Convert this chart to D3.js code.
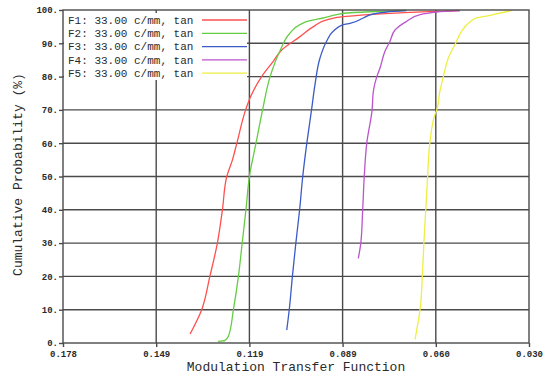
<!DOCTYPE html>
<html>
<head>
<meta charset="utf-8">
<script src="https://cdn.jsdelivr.net/npm/d3@7"></script>
<style>
  body { margin: 0; background: #fff; }
  svg text { font-family: "Liberation Mono", "DejaVu Sans Mono", monospace; fill: #2a2a2a; }
</style>
</head>
<body>
<div id="chart"></div>
<script>
// --------------------------------------
//  Data
// --------------------------------------

const legendLabels = ["F1: 33.00 c/mm, tan", "F2: 33.00 c/mm, tan", "F3: 33.00 c/mm, tan", "F4: 33.00 c/mm, tan", "F5: 33.00 c/mm, tan"];
const seriesColors = ["#ff5050", "#66cc44", "#3a5bc8", "#bb55cc", "#eeee44"];

const xTicks = [0.1785, 0.1488, 0.1191, 0.0894, 0.0597, 0.0300];
const yTicks = [0, 10, 20, 30, 40, 50, 60, 70, 80, 90, 100];

const f1Mtf  = [0.1380, 0.1343, 0.1317, 0.1293, 0.1277, 0.1263, 0.1245, 0.1231, 0.1203, 0.1187, 0.1152, 0.1115, 0.1088, 0.1030, 0.0987, 0.0945, 0.0892, 0.0743, 0.0620, 0.0520];
const f1Prob = [2.7, 10, 20, 30, 40, 50, 55, 60, 70, 74, 80, 84.6, 88, 92, 95, 97, 98, 99, 99.5, 99.8];

const f2Mtf  = [0.1291, 0.1270, 0.1258, 0.1242, 0.1226, 0.1214, 0.1202, 0.1191, 0.1170, 0.1149, 0.1125, 0.1094, 0.1062, 0.1030, 0.0998, 0.0956, 0.0913, 0.0881, 0.0775, 0.0695];
const f2Prob = [0.5, 0.7, 2, 10, 20, 30, 40, 50, 60, 70, 80, 87.6, 93, 95.6, 96.8, 97.6, 98.6, 99.1, 99.6, 99.9];

const f3Mtf  = [0.1072, 0.1064, 0.1054, 0.1043, 0.1031, 0.1021, 0.1008, 0.0993, 0.0982, 0.0966, 0.0945, 0.0924, 0.0892, 0.0870, 0.0828, 0.0796, 0.0754, 0.0690];
const f3Prob = [3.9, 10, 20, 30, 40, 50, 60, 70, 77.6, 85.6, 90.6, 93.6, 95.6, 96, 97.6, 98.8, 99.4, 99.8];

const f4Mtf  = [0.0844, 0.0836, 0.0830, 0.0825, 0.0817, 0.0800, 0.0796, 0.0785, 0.0775, 0.0759, 0.0743, 0.0727, 0.0690, 0.0647, 0.0616, 0.0594, 0.0520];
const f4Prob = [25.4, 30, 40, 50, 60, 70, 75.6, 80, 82.5, 87.6, 90.6, 94, 96.6, 98.6, 99.1, 99.4, 99.8];

const f5Mtf  = [0.0663, 0.0656, 0.0647, 0.0640, 0.0635, 0.0629, 0.0623, 0.0616, 0.0600, 0.0594, 0.0584, 0.0573, 0.0557, 0.0536, 0.0515, 0.0493, 0.0467, 0.0424, 0.0392, 0.0355];
const f5Prob = [1.1, 4.9, 10, 20, 30, 40, 50, 60, 68.5, 70, 75.6, 80, 85.6, 89.6, 93.6, 96, 97.6, 98.4, 99.1, 99.8];

const seriesMtf = [f1Mtf, f2Mtf, f3Mtf, f4Mtf, f5Mtf];
const seriesProb = [f1Prob, f2Prob, f3Prob, f4Prob, f5Prob];

// --------------------------------------
//  Margin and canvas
// --------------------------------------

const width = 550;
const height = 377;
const margin = {top: 10, right: 21, bottom: 34, left: 63};
const innerWidth = width - margin.left - margin.right;
const innerHeight = height - margin.top - margin.bottom;

const svg = d3.select("#chart")
  .append("svg")
    .attr("width", width)
    .attr("height", height);

const innerChart = svg
  .append("g")
    .attr("transform", `translate(${margin.left}, ${margin.top})`);

// --------------------------------------
//  Scales
// --------------------------------------

const xScale = d3.scaleLinear()
  .domain([0.1785, 0.0300])
  .range([0, innerWidth]);

const yScale = d3.scaleLinear()
  .domain([0, 100])
  .range([innerHeight, 0]);

const gridColor = "#4a4a4a";

// --------------------------------------
//  Grid
// --------------------------------------

innerChart.append("g")
  .selectAll("line")
  .data(yTicks.slice(1, -1))
  .join("line")
    .attr("x1", 0)
    .attr("x2", innerWidth)
    .attr("y1", d => yScale(d))
    .attr("y2", d => yScale(d))
    .attr("stroke", gridColor)
    .attr("stroke-width", 1.4);

innerChart.append("g")
  .selectAll("line")
  .data(xTicks.slice(1, -1))
  .join("line")
    .attr("x1", d => xScale(d))
    .attr("x2", d => xScale(d))
    .attr("y1", 0)
    .attr("y2", innerHeight)
    .attr("stroke", gridColor)
    .attr("stroke-width", 1.4);

// --------------------------------------
//  Axes
// --------------------------------------

const xAxis = d3.axisBottom(xScale)
  .tickValues(xTicks)
  .tickSize(4)
  .tickFormat(d3.format(".3f"));

const yAxis = d3.axisLeft(yScale)
  .tickValues(yTicks)
  .tickSize(4)
  .tickFormat(d => d + ".");

innerChart.append("g")
    .attr("transform", `translate(0, ${innerHeight})`)
    .call(xAxis)
    .call(g => g.select(".domain").remove())
    .call(g => g.selectAll(".tick line").attr("stroke", gridColor).attr("stroke-width", 1.4))
    .call(g => g.selectAll(".tick text")
      .attr("font-size", 9).attr("font-weight", "bold").attr("fill", "#444")
      .attr("dy", "0.8em"));

innerChart.append("g")
    .call(yAxis)
    .call(g => g.select(".domain").remove())
    .call(g => g.selectAll(".tick line").attr("stroke", gridColor).attr("stroke-width", 1.4))
    .call(g => g.selectAll(".tick text")
      .attr("font-size", 9).attr("font-weight", "bold").attr("fill", "#444")
      .attr("x", -5));

// --------------------------------------
//  Curves
// --------------------------------------

const line = d3.line()
  .x(d => xScale(d[0]))
  .y(d => yScale(d[1]))
  .curve(d3.curveMonotoneY);

innerChart.append("g")
  .selectAll("path")
  .data(seriesMtf.map((m, i) => m.map((v, j) => [v, seriesProb[i][j]])))
  .join("path")
    .attr("d", line)
    .attr("fill", "none")
    .attr("stroke", (d, i) => seriesColors[i])
    .attr("stroke-width", 1.3);

// --------------------------------------
//  Legend
// --------------------------------------

const legend = innerChart.append("g");

legend.append("rect")
    .attr("x", 1)
    .attr("y", 3)
    .attr("width", 183)
    .attr("height", 67)
    .attr("fill", "#fff");

const legendRows = legend.selectAll("g")
  .data(legendLabels)
  .join("g")
    .attr("transform", (d, i) => `translate(0, ${10 + i * 13.3})`);

legendRows.append("text")
    .attr("x", 5)
    .attr("dy", "0.35em")
    .attr("font-size", 11)
    .text(d => d);

legendRows.append("line")
    .attr("x1", 139)
    .attr("x2", 184)
    .attr("stroke", (d, i) => seriesColors[i])
    .attr("stroke-width", 1.3);

// frame
innerChart.append("rect")
    .attr("width", innerWidth)
    .attr("height", innerHeight)
    .attr("fill", "none")
    .attr("stroke", gridColor)
    .attr("stroke-width", 1.4);

// --------------------------------------
//  Axis titles
// --------------------------------------

svg.append("text")
    .attr("x", margin.left + innerWidth / 2)
    .attr("y", 371)
    .attr("text-anchor", "middle")
    .attr("font-size", 13)
    .text("Modulation Transfer Function");

svg.append("text")
    .attr("transform", `translate(22, ${margin.top + innerHeight / 2 - 2}) rotate(-90)`)
    .attr("text-anchor", "middle")
    .attr("font-size", 13)
    .text("Cumulative Probability (%)");
</script>
</body>
</html>
